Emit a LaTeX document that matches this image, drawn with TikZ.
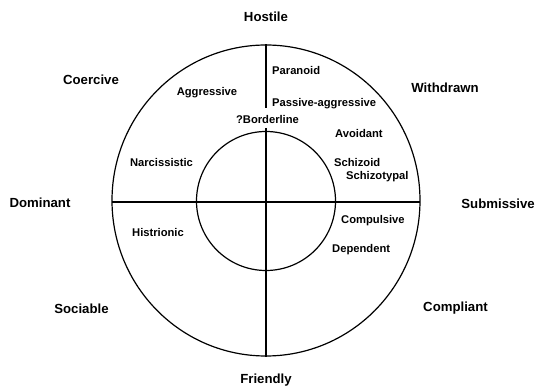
\documentclass[tikz,border=0pt]{standalone}
\usepackage{fontspec}
\setmainfont{Liberation Sans}
\usetikzlibrary{shapes.geometric}
\begin{document}
\begin{tikzpicture}[x=1pt,y=-1pt,
  outer/.style={font=\fontsize{13.2}{15}\selectfont\bfseries, inner sep=0pt},
  inlab/.style={font=\fontsize{11.2}{13}\selectfont\bfseries, inner sep=0pt},
  ring/.style={draw=black, line width=1.2pt}]
\useasboundingbox (0,0) rectangle (536,387);
% circles
\node[ring, ellipse, minimum width=308pt, minimum height=311pt, inner sep=0pt] (oc) at (266,200.5) {};
\node[ring, circle, minimum size=139pt, inner sep=0pt] (ic) at (266,201) {};
% axes
\coordinate (hl) at (112,202);
\coordinate (hr) at (420,202);
\draw[ring] (hl) -- (hr);
\coordinate (vgap1) at (266,108);
\coordinate (vgap2) at (266,128);
\draw[ring] (oc.north) -- (vgap1);
\draw[ring] (vgap2) -- (oc.south);
% outer labels
\node[outer] (hostile) at (266,17) {Hostile};
\node[outer] (coercive) at (91,80) {Coercive};
\node[outer] (withdrawn) at (445,88) {Withdrawn};
\node[outer] (dominant) at (40,203) {Dominant};
\node[outer, anchor=east] (submissive) at (535,203.5) {Submissive};
\node[outer] (sociable) at (81.5,308.5) {Sociable};
\node[outer] (compliant) at (455.5,308.5) {Compliant};
\node[outer, anchor=south] (friendly) at (266,386) {Friendly};
% inner labels
\node[inlab, anchor=west] (paranoid) at (272,71) {Paranoid};
\node[inlab, anchor=west] (passagg) at (272,104) {Passive-aggressive};
\node[inlab] (aggressive) at (207,92.5) {Aggressive};
\node[inlab] (borderline) at (267.5,119.5) {?Borderline};
\node[inlab, anchor=west] (avoidant) at (335,134) {Avoidant};
\node[inlab] (narc) at (161.5,162.5) {Narcissistic};
\node[inlab, anchor=west] (schizoid) at (334,162.5) {Schizoid};
\node[inlab, anchor=west] (schizotypal) at (346,176.5) {Schizotypal};
\node[inlab, anchor=west] (compulsive) at (341,221) {Compulsive};
\node[inlab] (histrionic) at (158,232) {Histrionic};
\node[inlab, anchor=west] (dependent) at (332,249.5) {Dependent};
\end{tikzpicture}
\end{document}
